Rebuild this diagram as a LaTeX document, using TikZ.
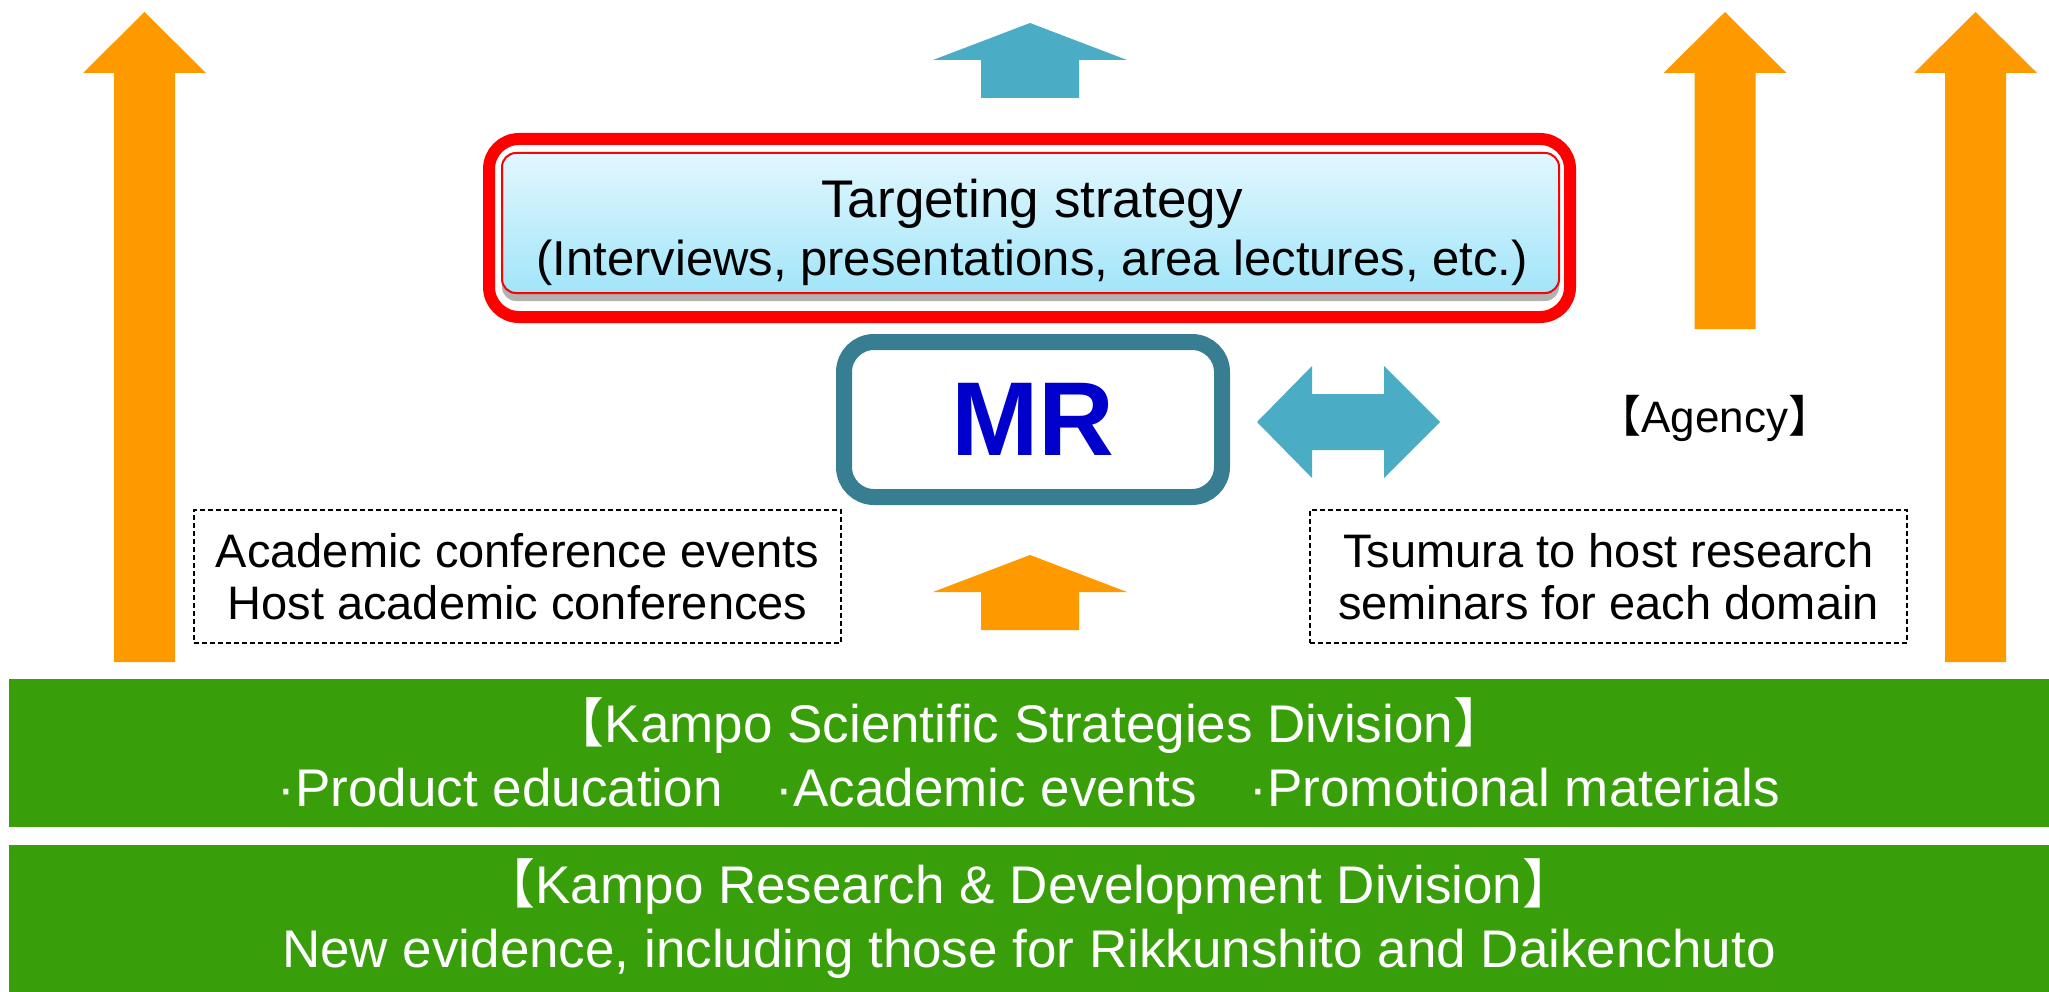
\documentclass[tikz,border=0pt]{standalone}
\usepackage{fontspec}
\setmainfont{Liberation Sans}
\newfontfamily\cjk{Noto Sans CJK JP}
\usetikzlibrary{positioning, shadows}

\definecolor{kgreen}{RGB}{56,158,9}
\definecolor{korange}{RGB}{255,153,0}
\definecolor{kblue}{RGB}{75,172,198}
\definecolor{kteal}{RGB}{55,126,147}
\definecolor{mrblue}{RGB}{0,0,204}
\definecolor{skytop}{RGB}{226,247,254}
\definecolor{skybot}{RGB}{162,229,249}

\newcommand{\lb}{{\cjk 【}}
\newcommand{\rb}{{\cjk 】}}

\begin{document}
\begin{tikzpicture}[x=1pt, y=-1pt,
    divbar/.style={fill=kgreen, text=white, minimum width=2040pt, minimum height=148pt,
                   align=center, font=\fontsize{53}{64}\selectfont},
    notebox/.style={draw, line width=1.5pt, dash pattern=on 5pt off 3pt, align=center,
                    minimum height=133pt, font=\fontsize{47}{52}\selectfont}]
    \useasboundingbox (0,0) rectangle (2049,992);

    % tall orange arrows
    \foreach \cx/\by in {144.5/662, 1725/329, 1975.5/662}
        \fill[korange] (\cx,12) -- ({\cx+61.5},73) -- ({\cx+30.5},73) -- ({\cx+30.5},\by)
                       -- ({\cx-30.5},\by) -- ({\cx-30.5},73) -- ({\cx-61.5},73) -- cycle;
    % short arrows above the strategy box and below MR
    \foreach \ty/\col in {23/kblue, 555/korange}
        \fill[\col] (1030,\ty) -- (1127,{\ty+37}) -- (1079,{\ty+37}) -- (1079,{\ty+75})
                    -- (981,{\ty+75}) -- (981,{\ty+37}) -- (933,{\ty+37}) -- cycle;

    % strategy box
    \node[draw=red, line width=12pt, rounded corners=30pt, minimum width=1081pt,
          minimum height=178pt] (frame) at (1029.5,228) {};
    \node[draw=red, line width=2pt, rounded corners=14pt, top color=skytop, bottom color=skybot,
          drop shadow={shadow xshift=0pt, shadow yshift=-8pt, fill=gray!60, opacity=1},
          minimum width=1057pt, minimum height=140pt] (target) at (1030.5,223) {};
    \node[align=center, font=\fontsize{53}{58}\selectfont] (targettext) at (1032,232)
          {Targeting strategy\\ {\fontsize{49}{58}\selectfont (Interviews, presentations, area lectures, etc.)}};

    % MR and agency
    \node[draw=kteal, line width=16pt, rounded corners=30pt, minimum width=378pt,
          minimum height=155pt, text=mrblue, font=\fontsize{105}{110}\selectfont\bfseries]
          (mr) at (1033,419.5) {MR};
    \fill[kblue] (1257,422) -- (1312,366) -- (1312,394) -- (1384,394) -- (1384,366)
                 -- (1440,422) -- (1384,478) -- (1384,450) -- (1312,450) -- (1312,478) -- cycle;
    \node[font=\fontsize{44}{50}\selectfont] (agency) at (1715,418) {\lb Agency\rb};

    % dashed notes
    \node[notebox, minimum width=647pt] (conf) at (517.5,576.5)
          {Academic conference events\\ Host academic conferences};
    \node[notebox, minimum width=597pt] (sem) at (1608.5,576.5)
          {Tsumura to host research\\ seminars for each domain};

    % divisions
    \node[divbar] (kssd) at (1029,752.5)
          {\lb Kampo Scientific Strategies Division\rb\\
           ·Product education\quad ·Academic events\quad ·Promotional materials};
    \node[divbar] (krdd) at (1029,918.5)
          {\lb Kampo Research \& Development Division\rb\\
           New evidence, including those for Rikkunshito and Daikenchuto};
\end{tikzpicture}
\end{document}
